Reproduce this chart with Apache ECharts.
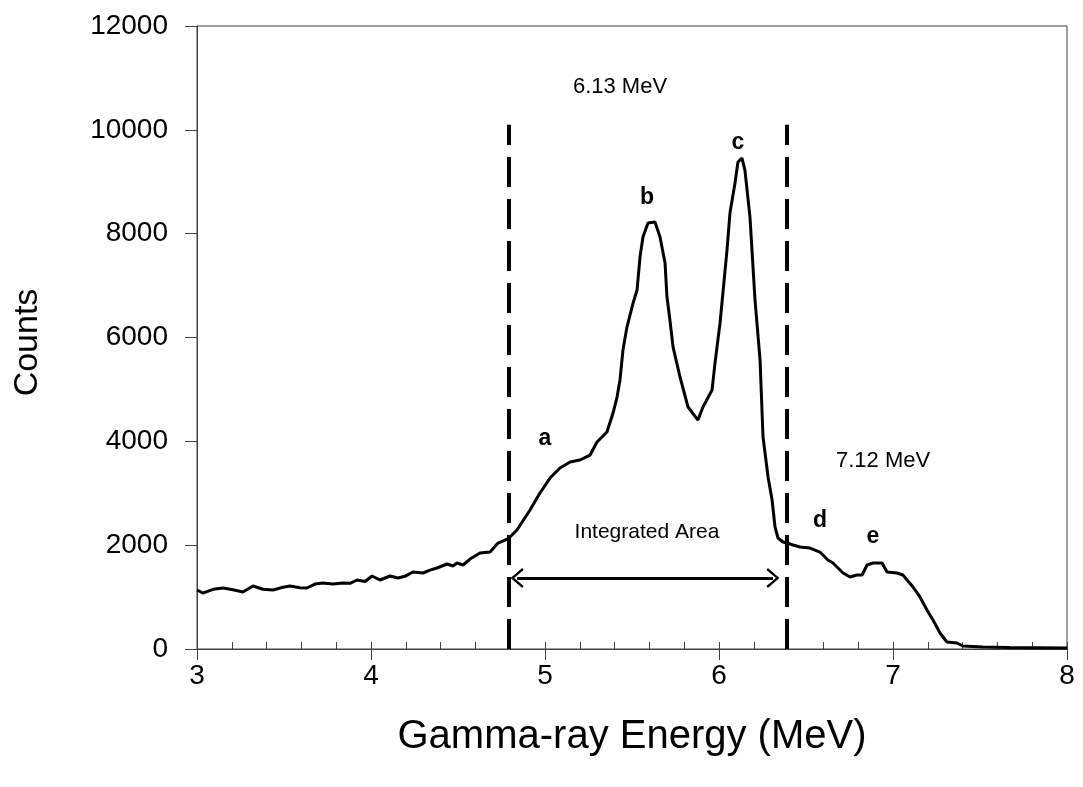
<!DOCTYPE html>
<html>
<head>
<meta charset="utf-8">
<script src="https://cdn.jsdelivr.net/npm/echarts@6/dist/echarts.min.js"></script>
<style>
html,body{margin:0;padding:0;background:#fff;}
#chart{width:1083px;height:787px;}
</style>
</head>
<body>
<div id="chart"></div>
<script>
// Gamma-ray energy (MeV)
const energy = [
3.000,3.034,3.092,3.149,3.207,3.264,3.322,3.379,3.437,3.494,3.534,3.592,3.632,3.678,3.724,3.782,3.839,3.879,3.920,3.966,
4.006,4.052,4.109,4.155,4.195,4.241,4.299,4.339,4.379,4.437,4.471,4.494,4.529,4.569,4.626,4.684,4.730,4.770,4.787,4.839,
4.914,4.971,5.029,5.086,5.144,5.201,5.259,5.299,5.356,5.391,5.414,5.431,5.448,5.471,5.506,5.529,5.546,5.563,5.592,5.632,
5.661,5.690,5.701,5.718,5.736,5.776,5.822,5.879,5.908,5.960,5.977,6.006,6.046,6.063,6.092,6.109,6.132,6.149,6.178,6.207,
6.236,6.253,6.282,6.305,6.322,6.339,6.368,6.391,6.425,6.466,6.523,6.580,6.626,6.655,6.713,6.753,6.793,6.822,6.851,6.885,
6.937,6.966,7.023,7.057,7.115,7.155,7.195,7.230,7.270,7.310,7.368,7.402,7.517,7.672,7.845,8.000
];
// Counts
const counts = [
1136,1078,1150,1175,1140,1098,1213,1150,1136,1190,1213,1180,1175,1250,1271,1250,1271,1265,1329,1300,
1406,1329,1406,1367,1400,1483,1464,1520,1560,1637,1598,1656,1618,1733,1849,1868,2041,2099,2118,2292,
2677,3005,3293,3486,3602,3640,3736,3987,4179,4545,4853,5181,5758,6201,6663,6914,7550,7935,8205,8224,
7935,7434,6779,6336,5816,5239,4661,4410,4661,4988,5508,6279,7685,8397,8975,9380,9457,9226,8320,6721,
5566,4083,3313,2870,2350,2138,2061,2041,2003,1965,1945,1868,1714,1656,1464,1387,1425,1425,1618,1656,
1656,1483,1464,1425,1194,1002,751,559,308,135,116,58,39,30,25,20
];
// Integration window boundaries (MeV) and top of dashed lines (counts)
const windowLines = [4.79, 6.39];
const windowTop = 10100;
// Double arrow (MeV) and its height (counts)
const arrowSpan = [4.84, 6.31];
const arrowY = 1367;
// Peak letters: [text, energy, counts]
const peakLabels = [
  ['a', 5.00, 4060],
  ['b', 5.586, 8700],
  ['c', 6.109, 9750],
  ['d', 6.58, 2480],
  ['e', 6.885, 2170]
];
// Text notes: [text, energy, counts, font size]
const notes = [
  ['6.13 MeV', 5.431, 10830, 22],
  ['7.12 MeV', 6.943, 3620, 22],
  ['Integrated Area', 5.586, 2250, 21]
];
const xTicks = [3, 4, 5, 6, 7, 8];
const yTicks = [0, 2000, 4000, 6000, 8000, 10000, 12000];

const FONT = '"Liberation Sans", Arial, sans-serif';
const data = energy.map((e, i) => [e, counts[i]]);

const chevron = 'path://M50,0 L100,80 L90,90 L50,24 L10,90 L0,80 Z';

const markPts = [];
peakLabels.forEach(p => markPts.push({
  coord: [p[1], p[2]], symbol: 'circle', symbolSize: 0,
  label: {show: true, formatter: p[0], position: 'inside', fontFamily: FONT, fontSize: 23, fontWeight: 'bold', color: '#000'}
}));
notes.forEach(n => markPts.push({
  coord: [n[1], n[2]], symbol: 'circle', symbolSize: 0,
  label: {show: true, formatter: n[0], position: 'inside', fontFamily: FONT, fontSize: n[3], color: '#000'}
}));

const chart = echarts.init(document.getElementById('chart'), null, {renderer: 'canvas'});
chart.setOption({
  animation: false,
  backgroundColor: '#fff',
  grid: {left: 197, top: 26, right: 16, bottom: 138, show: true, borderColor: '#404040', borderWidth: 1, backgroundColor: 'transparent'},
  xAxis: [{
    type: 'value', min: xTicks[0], max: xTicks[xTicks.length - 1], interval: 1,
    name: 'Gamma-ray Energy (MeV)', nameLocation: 'middle', nameGap: 68,
    nameTextStyle: {fontFamily: FONT, fontSize: 40, color: '#000'},
    axisLine: {show: true, lineStyle: {color: '#404040', width: 1}},
    axisTick: {show: true, inside: false, length: 11, lineStyle: {color: '#404040'}},
    axisLabel: {fontFamily: FONT, fontSize: 28, color: '#000', margin: 13},
    splitLine: {show: false}
  }, {
    type: 'value', min: xTicks[0], max: xTicks[xTicks.length - 1], interval: 1, position: 'bottom',
    axisLine: {show: false},
    axisTick: {show: true, inside: true, length: 7, lineStyle: {color: '#404040'}},
    minorTick: {show: true, splitNumber: 5, length: 7, lineStyle: {color: '#404040'}},
    axisLabel: {show: false}, splitLine: {show: false}
  }],
  yAxis: {
    type: 'value', min: yTicks[0], max: yTicks[yTicks.length - 1], interval: 2000,
    name: 'Counts', nameLocation: 'middle', nameGap: 152, nameRotate: 90,
    nameTextStyle: {fontFamily: FONT, fontSize: 34, color: '#000', padding: [0, 10, 0, 0]},
    axisLine: {show: true, lineStyle: {color: '#404040', width: 1}},
    axisTick: {show: true, inside: false, length: 12, lineStyle: {color: '#404040'}},
    axisLabel: {fontFamily: FONT, fontSize: 28, color: '#000', margin: 29, formatter: v => String(v)},
    splitLine: {show: false}
  },
  series: [{
    type: 'line', data: data, xAxisIndex: 0, showSymbol: false, smooth: false,
    lineStyle: {color: '#000', width: 3},
    markPoint: {silent: true, data: markPts},
    markLine: {
      silent: true, symbol: 'none', label: {show: false},
      data: [
        [{coord: [windowLines[0], 0], lineStyle: {color: '#000', width: 4, type: [30, 12]}}, {coord: [windowLines[0], windowTop]}],
        [{coord: [windowLines[1], 0], lineStyle: {color: '#000', width: 4, type: [30, 12]}}, {coord: [windowLines[1], windowTop]}],
        [{coord: [arrowSpan[0], arrowY], symbol: chevron, symbolSize: [20, 13], lineStyle: {color: '#000', width: 3, type: 'solid'}},
         {coord: [arrowSpan[1], arrowY], symbol: chevron, symbolSize: [20, 13]}]
      ]
    }
  }]
});
</script>
</body>
</html>
